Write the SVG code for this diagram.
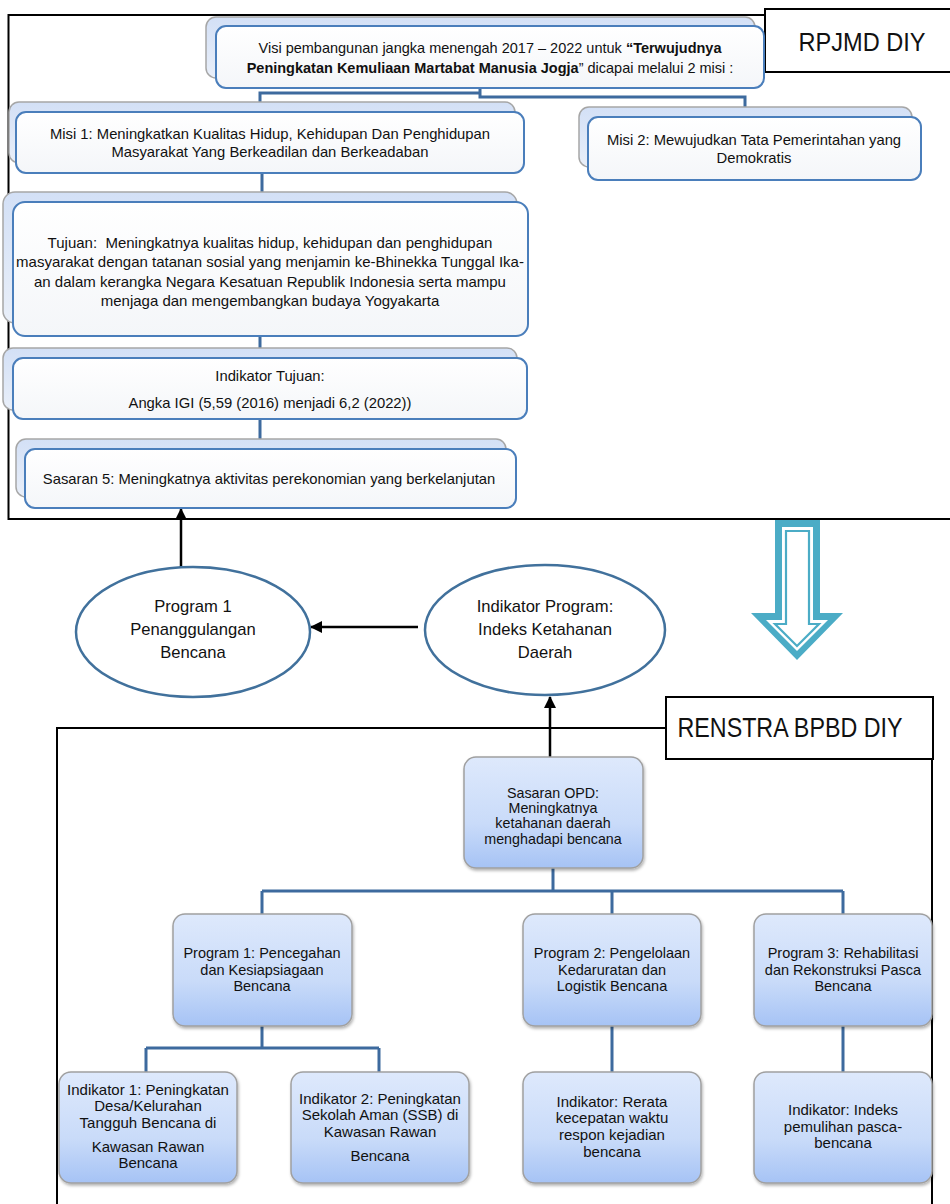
<svg xmlns="http://www.w3.org/2000/svg" width="950" height="1204" viewBox="0 0 950 1204">
<defs>
<linearGradient id="gBack" x1="0" y1="0" x2="0" y2="1"><stop offset="0" stop-color="#d3e0f6"/><stop offset="1" stop-color="#e9eff9"/></linearGradient>
<linearGradient id="gFront" x1="0" y1="0" x2="0" y2="1"><stop offset="0" stop-color="#ffffff"/><stop offset="1" stop-color="#f4f6f9"/></linearGradient>
<linearGradient id="gBlue" x1="0" y1="0" x2="0" y2="1"><stop offset="0" stop-color="#dee9fc"/><stop offset="0.6" stop-color="#c9dbf9"/><stop offset="1" stop-color="#a6c3f5"/></linearGradient>
<filter id="sh" x="-10%" y="-10%" width="120%" height="120%"><feDropShadow dx="1" dy="2" stdDeviation="1.5" flood-color="#000" flood-opacity="0.3"/></filter>
<marker id="ah" viewBox="0 0 12 12" refX="11" refY="6" markerWidth="12" markerHeight="12" markerUnits="userSpaceOnUse" orient="auto"><path d="M0,0 L12,6 L0,12 Z" fill="#000"/></marker>
</defs>
<style>
text{font-family:"Liberation Sans",Arial,sans-serif;fill:#111;text-anchor:middle}
.t14{font-size:14.8px}
.tv{font-size:14.5px}
.t143{font-size:14.3px}
.t145{font-size:14.5px}
.t15{font-size:15px}
.t16{font-size:16.6px}
.back{fill:url(#gBack);stroke:#a6a6a6;stroke-width:1.5}
.front{fill:url(#gFront);stroke:#4a7ebb;stroke-width:2}
.blue{fill:url(#gBlue);stroke:#a0a0a0;stroke-width:1.5;filter:url(#sh)}
.frame{fill:none;stroke:#000;stroke-width:2}
.label{fill:#fff;stroke:#000;stroke-width:2}
.conn{fill:none;stroke:#3d6a9e;stroke-width:3}
.arr{fill:none;stroke:#000;stroke-width:2.5;marker-end:url(#ah)}
.ell{fill:#fff;stroke:#41719c;stroke-width:2.5}
</style>

<rect x="8.5" y="15" width="960" height="504" class="frame"/>

<g id="connectors">
<path class="conn" d="M480,88 V93 H260 V102 M480,93 V97 H745 V107"/>
<path class="conn" d="M262,173 V192 M260,336 V348 M260,419 V439"/>
<path class="conn" d="M553,868 V891 M262,891 H843 M262,891 V914 M612,891 V914 M843,891 V914"/>
<path class="conn" d="M262,1026 V1048 M146,1048 H379 M146,1048 V1072 M379,1048 V1072 M612,1026 V1072 M843,1026 V1072"/>
<line class="arr" x1="181" y1="567" x2="181" y2="509"/>
<line class="arr" x1="418" y1="627" x2="311" y2="627"/>
<line class="arr" x1="550" y1="757" x2="550" y2="697"/>
</g>

<g id="rpjmd-label">
<rect x="765" y="9" width="190" height="63" class="label"/>
<text x="862" y="51" style="font-size:26px" textLength="127" lengthAdjust="spacingAndGlyphs">RPJMD DIY</text>
</g>

<g id="visi">
<rect x="206" y="17" width="549" height="61" rx="10" class="back"/>
<rect x="216" y="26" width="548" height="62" rx="10" class="front"/>
<text class="tv" x="490" y="53">Visi pembangunan jangka menengah 2017 – 2022 untuk <tspan font-weight="bold">“Terwujudnya</tspan></text>
<text class="tv" x="490" y="73"><tspan font-weight="bold">Peningkatan Kemuliaan Martabat Manusia Jogja</tspan>” dicapai melalui 2 misi :</text>
</g>

<g id="misi1">
<rect x="9" y="102" width="506" height="61" rx="10" class="back"/>
<rect x="16" y="112" width="508" height="61" rx="10" class="front"/>
<text class="t14" x="270" y="139">Misi 1: Meningkatkan Kualitas Hidup, Kehidupan Dan Penghidupan</text>
<text class="t14" x="270" y="157">Masyarakat Yang Berkeadilan dan Berkeadaban</text>
</g>

<g id="misi2">
<rect x="579" y="107" width="333" height="60" rx="10" class="back"/>
<rect x="588" y="117" width="333" height="63" rx="10" class="front"/>
<text class="t14" x="754" y="145">Misi 2: Mewujudkan Tata Pemerintahan yang</text>
<text class="t14" x="754" y="163">Demokratis</text>
</g>

<g id="tujuan">
<rect x="3" y="192" width="514" height="131" rx="12" class="back"/>
<rect x="13" y="202" width="515" height="134" rx="12" class="front"/>
<text class="t15" x="270" y="248" style="white-space:pre">Tujuan:  Meningkatnya kualitas hidup, kehidupan dan penghidupan</text>
<text class="t15" x="270" y="267">masyarakat dengan tatanan sosial yang menjamin ke-Bhinekka Tunggal Ika-</text>
<text class="t15" x="270" y="287">an dalam kerangka Negara Kesatuan Republik Indonesia serta mampu</text>
<text class="t15" x="270" y="306">menjaga dan mengembangkan budaya Yogyakarta</text>
</g>

<g id="indikator-tujuan">
<rect x="3" y="348" width="514" height="62" rx="10" class="back"/>
<rect x="13" y="358" width="514" height="61" rx="10" class="front"/>
<text class="t14" x="270" y="381">Indikator Tujuan:</text>
<text class="t14" x="270" y="408">Angka IGI (5,59 (2016) menjadi 6,2 (2022))</text>
</g>

<g id="sasaran5">
<rect x="16" y="439" width="490" height="58" rx="10" class="back"/>
<rect x="25" y="449" width="491" height="59" rx="10" class="front"/>
<text class="t14" x="269" y="484">Sasaran 5: Meningkatnya aktivitas perekonomian yang berkelanjutan</text>
</g>

<g id="program1-ellipse">
<ellipse cx="193" cy="632" rx="117" ry="65" class="ell"/>
<text class="t16" x="193" y="612">Program 1</text>
<text class="t16" x="193" y="635">Penanggulangan</text>
<text class="t16" x="193" y="658">Bencana</text>
</g>

<g id="indikator-program-ellipse">
<ellipse cx="545" cy="630" rx="120" ry="65" class="ell"/>
<text class="t16" x="545" y="612">Indikator Program:</text>
<text class="t16" x="545" y="635">Indeks Ketahanan</text>
<text class="t16" x="545" y="658">Daerah</text>
</g>

<g id="down-arrow">
<polygon points="775,520 820,520 820,613 843,613 797,660 751,613 775,613" fill="#4bacc6"/>
<polygon points="782,527 813,527 813,620 828,620 797,651 766,620 782,620" fill="#fff"/>
<polygon points="786,531 809,531 809,624 819,624 797,646 775,624 786,624" fill="#fff" stroke="#4bacc6" stroke-width="2.2"/>
</g>

<rect x="57" y="728" width="875" height="490" class="frame"/>

<g id="renstra-label">
<rect x="666" y="697" width="267" height="62" class="label"/>
<text x="790" y="737" style="font-size:28px" textLength="225" lengthAdjust="spacingAndGlyphs">RENSTRA BPBD DIY</text>
</g>

<g id="sasaran-opd">
<rect x="464" y="757" width="179" height="111" rx="12" class="blue"/>
<text class="t143" x="553" y="798">Sasaran OPD:</text>
<text class="t143" x="553" y="813">Meningkatnya</text>
<text class="t143" x="553" y="828">ketahanan daerah</text>
<text class="t143" x="553" y="844">menghadapi bencana</text>
</g>

<g id="program-1">
<rect x="173" y="914" width="179" height="112" rx="12" class="blue"/>
<text class="t145" x="262" y="958">Program 1: Pencegahan</text>
<text class="t145" x="262" y="975">dan Kesiapsiagaan</text>
<text class="t145" x="262" y="991">Bencana</text>
</g>

<g id="program-2">
<rect x="523" y="914" width="178" height="112" rx="12" class="blue"/>
<text class="t145" x="612" y="958">Program 2: Pengelolaan</text>
<text class="t145" x="612" y="975">Kedaruratan dan</text>
<text class="t145" x="612" y="991">Logistik Bencana</text>
</g>

<g id="program-3">
<rect x="754" y="914" width="178" height="112" rx="12" class="blue"/>
<text class="t145" x="843" y="958">Program 3: Rehabilitasi</text>
<text class="t145" x="843" y="975">dan Rekonstruksi Pasca</text>
<text class="t145" x="843" y="991">Bencana</text>
</g>

<g id="indikator-1">
<rect x="59" y="1072" width="178" height="111" rx="12" class="blue"/>
<text class="t15" x="148" y="1095">Indikator 1: Peningkatan</text>
<text class="t15" x="148" y="1111">Desa/Kelurahan</text>
<text class="t15" x="148" y="1128">Tangguh Bencana di</text>
<text class="t15" x="148" y="1152">Kawasan Rawan</text>
<text class="t15" x="148" y="1168">Bencana</text>
</g>

<g id="indikator-2">
<rect x="291" y="1072" width="178" height="111" rx="12" class="blue"/>
<text class="t15" x="380" y="1104">Indikator 2: Peningkatan</text>
<text class="t15" x="380" y="1120">Sekolah Aman (SSB) di</text>
<text class="t15" x="380" y="1137">Kawasan Rawan</text>
<text class="t15" x="380" y="1161">Bencana</text>
</g>

<g id="indikator-3">
<rect x="523" y="1072" width="178" height="111" rx="12" class="blue"/>
<text class="t15" x="612" y="1107">Indikator: Rerata</text>
<text class="t15" x="612" y="1123">kecepatan waktu</text>
<text class="t15" x="612" y="1140">respon kejadian</text>
<text class="t15" x="612" y="1157">bencana</text>
</g>

<g id="indikator-4">
<rect x="754" y="1072" width="178" height="111" rx="12" class="blue"/>
<text class="t15" x="843" y="1115">Indikator: Indeks</text>
<text class="t15" x="843" y="1132">pemulihan pasca-</text>
<text class="t15" x="843" y="1148">bencana</text>
</g>
</svg>
